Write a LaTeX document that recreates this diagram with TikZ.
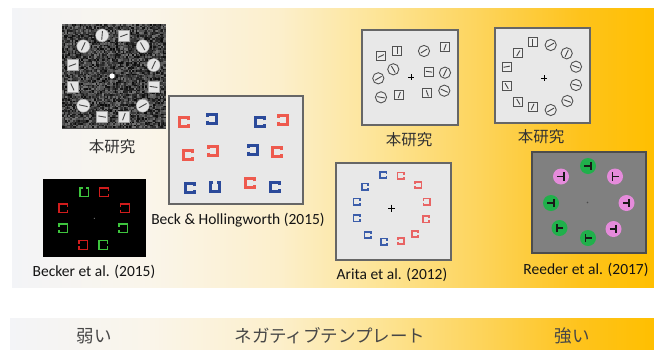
\documentclass[tikz,border=0pt]{standalone}
\usepackage{fontspec}
\setmainfont{Carlito}
\newfontfamily\jpfont{Noto Sans CJK JP}
\definecolor{bg0}{HTML}{F3F4F7}
\definecolor{bg1}{HTML}{FAF5EA}
\definecolor{bg2}{HTML}{FCEFCB}
\definecolor{bg3}{HTML}{FDE495}
\definecolor{bg4}{HTML}{FDD45C}
\definecolor{bg5}{HTML}{FEC31C}
\definecolor{bg6}{HTML}{FFBF00}
\definecolor{bred}{HTML}{EE5A4E}
\definecolor{bblue}{HTML}{2B4A9A}
\definecolor{kred}{HTML}{D01C1C}
\definecolor{kgreen}{HTML}{3DC43D}
\definecolor{ared}{HTML}{E86464}
\definecolor{ablue}{HTML}{3B5DAA}
\definecolor{rpink}{HTML}{E58BDB}
\definecolor{rgreen}{HTML}{20B04B}
\pgfdeclarehorizontalshading{bgshade}{100bp}{color(0bp)=(bg0); color(25bp)=(bg0); color(35.7bp)=(bg1); color(45.9bp)=(bg2); color(53.7bp)=(bg3); color(61.4bp)=(bg4); color(69.2bp)=(bg5); color(75bp)=(bg6); color(100bp)=(bg6)}
% circle item with bar: x y angle radius style
\newcommand\mydisc[5]{\draw[#5] (#1,#2) circle[radius=#4];
  \draw[barline,shift={(#1,#2)},rotate=#3] (-0.68*#4,0) -- (0.68*#4,0);}
\newcommand\mysq[5]{\draw[#5] (#1-#4,#2-#4) rectangle (#1+#4,#2+#4);
  \draw[barline,shift={(#1,#2)},rotate=#3] (-0.7*#4,0) -- (0.7*#4,0);}
% bracket: x y rotation size style
\newcommand\mybrk[5]{\draw[#5,shift={(#1,#2)},rotate=#3] (0.5*#4,-0.17*#4) -- (0.5*#4,-0.5*#4) -- (-0.5*#4,-0.5*#4) -- (-0.5*#4,0.5*#4) -- (0.5*#4,0.5*#4) -- (0.5*#4,0.17*#4);}
% T glyph in disc
\newcommand\myT[4]{\fill[#4] (#1,#2) circle[radius=8];
  \draw[tglyph,shift={(#1,#2)},rotate=#3] (-3.6,0) -- (2.6,0) (2.6,-4.2) -- (2.6,4.2);}
\begin{document}
\begin{tikzpicture}[x=1pt,y=-1pt,
  barline/.style={draw=black!72,line width=0.9pt},
  nz/.style={fill=black!10,draw=black!35,line width=0.4pt},
  pz/.style={fill=black!7,draw=black!68,line width=0.9pt},
  panel/.style={fill=black!9,draw=black!60,line width=1.3pt},
  bbr/.style={draw=bred,line width=2.7pt},
  bbb/.style={draw=bblue,line width=3pt},
  kr/.style={draw=kred,line width=1.3pt},
  kg/.style={draw=kgreen,line width=1.3pt},
  ar/.style={draw=ared,line width=1.6pt},
  ab/.style={draw=ablue,line width=1.7pt},
  tglyph/.style={draw=black!90,line width=1.8pt},
  jplab/.style={font=\jpfont\fontsize{15.5}{18}\selectfont,text=black!80},
  enlab/.style={font=\fontsize{15.5}{18}\selectfont,text=black!92},
  botlab/.style={font=\jpfont\fontsize{17.5}{20}\selectfont,text=black!72}]
\useasboundingbox (0,0) rectangle (654,349);
\fill[white] (0,0) rectangle (654,349);
\shade[shading=bgshade] (12,8) rectangle (654,287);
\shade[shading=bgshade] (10,318) rectangle (654,349);

% ---- panel 1: noise
\fill[black!72] (62,24) rectangle (166,128.8);
\pgfmathsetseed{7}
\foreach \i in {0,...,64}{\foreach \j in {0,...,64}{%
  \pgfmathsetmacro\g{int(4+rnd*44)}%
  \fill[white!\g!black] (62+1.6*\i,24+1.6*\j) rectangle ++(1.65,1.65);}}
\fill[white] (112,76) circle[radius=2.6];
\mydisc{102.1}{35.4}{85}{6.5}{nz}
\mysq{123.9}{35.4}{20}{5.5}{nz}
\mydisc{142.7}{46.3}{120}{6.5}{nz}
\mydisc{153.6}{65.1}{65}{6.5}{nz}
\mysq{153.6}{86.9}{-8}{5.5}{nz}
\mydisc{142.7}{105.7}{30}{6.5}{nz}
\mysq{123.9}{116.6}{70}{5.5}{nz}
\mysq{102.1}{116.6}{-10}{5.5}{nz}
\mydisc{83.3}{105.7}{-12}{6.5}{nz}
\mysq{72.4}{86.9}{-65}{5.5}{nz}
\mysq{72.4}{65.1}{20}{5.5}{nz}
\mydisc{83.3}{46.3}{65}{6.5}{nz}
\node[jplab] (lab1) at (112,147) {本研究};

% ---- panel Beck
\draw[panel] (169,96) rectangle (303,204);
\mybrk{184}{122}{0}{9.5}{bbr}
\mybrk{212}{119}{180}{9.5}{bbb}
\mybrk{260}{122}{0}{9.5}{bbb}
\mybrk{283}{120}{180}{9.5}{bbr}
\mybrk{188}{155}{0}{9.5}{bbr}
\mybrk{213}{151}{180}{9.5}{bbr}
\mybrk{253}{150}{180}{9.5}{bbb}
\mybrk{277}{152}{0}{9.5}{bbr}
\mybrk{190}{188}{0}{9.5}{bbb}
\mybrk{215}{187}{90}{9.5}{bbb}
\mybrk{250}{183}{0}{9.5}{bbr}
\mybrk{275}{187}{0}{9.5}{bbb}
\node[enlab] (lab2) at (238,220) {Beck \& Hollingworth (2015)};

% ---- panel Becker
\fill[black] (43,179) rectangle (146,257);
\fill[black!45] (94.3,218.3) circle[radius=0.6];
\mybrk{84.3}{192.3}{90}{8.5}{kg}
\mybrk{104}{192.3}{0}{8.5}{kr}
\mybrk{63.3}{208.3}{0}{8.5}{kr}
\mybrk{125}{208.3}{180}{8.5}{kr}
\mybrk{63.3}{228.3}{180}{8.5}{kg}
\mybrk{123.3}{228.3}{180}{8.5}{kg}
\mybrk{83.3}{245}{180}{8.5}{kr}
\mybrk{103.3}{245}{0}{8.5}{kg}
\node[enlab] (lab3) at (94,272) {Becker et al. (2015)};

% ---- panel 3 (random)
\draw[panel] (362,30) rectangle (458,125);
\draw[black,line width=0.8pt] (408,77.3) -- (414,77.3) (411,74.3) -- (411,80.3);
\mysq{381}{56}{25}{4.6}{pz}
\mysq{397.3}{50.7}{90}{4.6}{pz}
\mysq{445}{47.3}{70}{4.6}{pz}
\mysq{429}{71.7}{-8}{4.6}{pz}
\mysq{399.3}{95}{70}{4.6}{pz}
\mysq{427.3}{93.3}{-70}{4.6}{pz}
\mydisc{424}{51}{32}{5.6}{pz}
\mydisc{393.3}{69.3}{120}{5.6}{pz}
\mydisc{378.3}{78.3}{30}{5.6}{pz}
\mydisc{445}{72.7}{65}{5.6}{pz}
\mydisc{381}{97.3}{-10}{5.6}{pz}
\mydisc{444.3}{90.7}{-25}{5.6}{pz}
\node[jplab] (lab4) at (409,140) {本研究};

% ---- panel 4 (ring)
\draw[panel] (495,28) rectangle (590,123);
\draw[black,line width=0.8pt] (541,78.3) -- (547,78.3) (544,75.3) -- (544,81.3);
\mysq{532.7}{42.3}{90}{4.6}{pz}
\mysq{518.3}{53.3}{60}{4.6}{pz}
\mysq{506.7}{66.7}{10}{4.6}{pz}
\mysq{506.7}{86}{-60}{4.6}{pz}
\mysq{518.3}{101.7}{-60}{4.6}{pz}
\mysq{532.7}{106.7}{65}{4.6}{pz}
\mydisc{550.7}{45}{30}{5.6}{pz}
\mydisc{566.7}{53.3}{65}{5.6}{pz}
\mydisc{576}{66.7}{-20}{5.6}{pz}
\mydisc{576}{85}{-15}{5.6}{pz}
\mydisc{567.3}{101}{-20}{5.6}{pz}
\mydisc{550.7}{110}{30}{5.6}{pz}
\node[jplab] (lab5) at (541,137) {本研究};

% ---- panel Arita
\draw[panel] (336,163) rectangle (451,260);
\draw[black,line width=1.4pt] (388,208.3) -- (395.4,208.3) (391.7,204.6) -- (391.7,212);
\mybrk{383.3}{175}{0}{6.5}{ab}
\mybrk{400.7}{175.7}{0}{6.5}{ar}
\mybrk{365}{186.7}{0}{6.5}{ab}
\mybrk{418.3}{185}{180}{6.5}{ar}
\mybrk{356.7}{201.7}{0}{6.5}{ab}
\mybrk{426.7}{201.7}{180}{6.5}{ar}
\mybrk{356.7}{218.3}{0}{6.5}{ab}
\mybrk{426}{219.3}{0}{6.5}{ar}
\mybrk{367.7}{235}{0}{6.5}{ab}
\mybrk{415}{234}{0}{6.5}{ar}
\mybrk{384}{241.7}{0}{6.5}{ab}
\mybrk{401}{241}{180}{6.5}{ar}
\node[enlab] (lab6) at (392,275) {Arita et al. (2012)};

% ---- panel Reeder
\draw[fill=black!50,draw=black!70,line width=1.3pt] (532,152) rectangle (646,253);
\fill[black!70] (587.5,202.5) circle[radius=0.8];
\myT{588}{166}{0}{rgreen}
\myT{561}{176.5}{0}{rpink}
\myT{615}{176.5}{180}{rpink}
\myT{551}{203}{0}{rgreen}
\myT{626.5}{203}{0}{rpink}
\myT{559.5}{228}{180}{rgreen}
\myT{613.5}{229}{0}{rpink}
\myT{588}{238}{180}{rgreen}
\node[enlab] (lab7) at (586,270) {Reeder et al. (2017)};

% ---- bottom bar
\node[botlab] (weak) at (94,336) {弱い};
\node[botlab] (neg) at (330,336) {ネガティブテンプレート};
\node[botlab] (strong) at (572,336) {強い};
\end{tikzpicture}
\end{document}
